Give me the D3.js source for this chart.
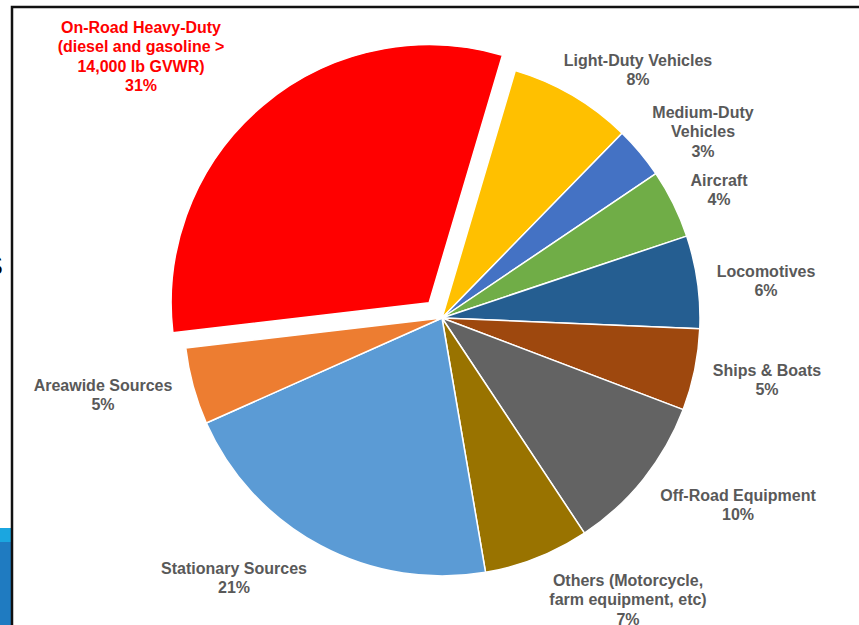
<!DOCTYPE html>
<html>
<head>
<meta charset="utf-8">
<script src="https://cdn.jsdelivr.net/npm/d3@7"></script>
<style>
    body { margin: 0; background: #fff; }
    svg { display: block; }
    .lbl { font-family: "Liberation Sans", Arial, sans-serif; font-weight: bold; font-size: 16px; }
</style>
</head>
<body>
<div id="chart"></div>
<script>
// emission sources, order as drawn clockwise from the exploded slice
const categories = [
    'On-Road Heavy-Duty', 'Light-Duty Vehicles', 'Medium-Duty Vehicles', 'Aircraft',
    'Locomotives', 'Ships & Boats', 'Off-Road Equipment', 'Others',
    'Stationary Sources', 'Areawide Sources'
];
const shares = [31.4, 7.7, 3.25, 4.3, 5.8, 5.1, 9.9, 6.6, 21, 4.8];
const labelLines = [
    ['On-Road Heavy-Duty', '(diesel and gasoline >', '14,000 lb GVWR)'],
    ['Light-Duty Vehicles'],
    ['Medium-Duty', 'Vehicles'],
    ['Aircraft'],
    ['Locomotives'],
    ['Ships & Boats'],
    ['Off-Road Equipment'],
    ['Others (Motorcycle,', 'farm equipment, etc)'],
    ['Stationary Sources'],
    ['Areawide Sources']
];
const colors = ['#ff0000', '#ffc000', '#4472c4', '#70ad47', '#255e91',
    '#9e480e', '#636363', '#997300', '#5b9bd5', '#ed7d31'];

// label anchors (centre of first line), relative to pie centre
const labelAt = [
    [-301, -291], [196, -258], [261, -206], [277, -138], [324, -47],
    [325, 52], [296, 177], [186, 262], [-208, 250], [-339, 67]
];

const width = 859,
    height = 625,
    cx = 442,
    cy = 318,
    radius = 258,
    explode = 20;

const svg = d3.select('#chart').append('svg')
    .attr('width', width)
    .attr('height', height);

// bits of the slide showing round the frame
svg.append('rect').attr('x', 0).attr('y', 528).attr('width', 12).attr('height', 14).attr('fill', '#1ba6e0');
svg.append('rect').attr('x', 0).attr('y', 542).attr('width', 12).attr('height', 83).attr('fill', '#1f7bc1');
svg.append('text')
    .attr('x', 3).attr('y', 275)
    .attr('text-anchor', 'end')
    .attr('font-family', 'Liberation Sans, Arial, sans-serif')
    .attr('font-size', 28)
    .attr('fill', '#000')
    .text('S');
svg.append('path')
    .attr('d', 'M12,625V7H859')
    .attr('fill', 'none')
    .attr('stroke', '#111')
    .attr('stroke-width', 2.5);

const start = -96.7 * Math.PI / 180;
const pie = d3.pie().sort(null).value(d => d)
    .startAngle(start).endAngle(start + 2 * Math.PI);
const arc = d3.arc().innerRadius(0).outerRadius(radius);

const wrap = svg.append('g')
    .attr('transform', 'translate(' + cx + ',' + cy + ')');

wrap.selectAll('.slice')
    .data(pie(shares))
    .enter()
    .append('path')
    .attr('class', 'slice')
    .attr('d', arc)
    .attr('fill', (d, i) => colors[i])
    .attr('stroke', '#fff')
    .attr('stroke-width', 1.5)
    .attr('stroke-linejoin', 'round')
    .attr('transform', (d, i) => {
        if (i !== 0) return null;
        const mid = (d.startAngle + d.endAngle) / 2;
        return 'translate(' + explode * Math.sin(mid) + ',' + (-explode * Math.cos(mid)) + ')';
    });

const labels = wrap.selectAll('.lbl')
    .data(categories)
    .enter()
    .append('text')
    .attr('class', 'lbl')
    .attr('text-anchor', 'middle')
    .attr('fill', (d, i) => i === 0 ? '#ff0000' : '#595959')
    .attr('transform', (d, i) => 'translate(' + labelAt[i][0] + ',' + labelAt[i][1] + ')');

labels.each(function (d, i) {
    const t = d3.select(this);
    const lines = labelLines[i].concat([Math.round(shares[i]) + '%']);
    lines.forEach((ln, j) => {
        t.append('tspan')
            .attr('x', 0)
            .attr('y', j * 19.5)
            .attr('dy', '0.35em')
            .text(ln);
    });
});
</script>
</body>
</html>
